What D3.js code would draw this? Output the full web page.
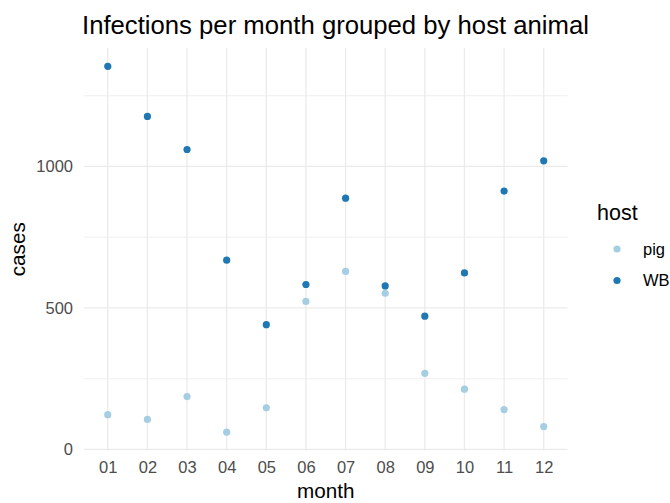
<!DOCTYPE html>
<html><head><meta charset="utf-8">
<script src="https://cdn.jsdelivr.net/npm/d3@7"></script>
<style>body{margin:0;background:#fff;}svg{display:block;font-family:"Liberation Sans",Arial,sans-serif;}</style>
</head><body><svg id="c" width="670" height="503"></svg>
<script>
const months = ["01","02","03","04","05","06","07","08","09","10","11","12"];
const hosts = ["pig","WB"];
const pigCases = [123,106,187,61,147,523,629,552,269,213,141,81];
const wbCases = [1354,1177,1060,669,441,583,888,578,471,624,913,1020];
const yTicks = [0,500,1000];
const yMinor = [250,750,1250];
const colors = ["#a6cee3","#1f78b4"];

const svg = d3.select("#c");
const panel = {left:84, right:567.5, top:48, bottom:450.5};

const allVals = pigCases.concat(wbCases);
const lo = d3.min(allVals), hi = d3.max(allVals), pad=(hi-lo)*0.05;
const y = d3.scaleLinear().domain([lo-pad, hi+pad]).range([panel.bottom, panel.top]);
const x = d3.scalePoint().domain(months).range([panel.left, panel.right]).padding(0.6);
const color = d3.scaleOrdinal().domain(hosts).range(colors);

// grid
const g = svg.append("g");
g.selectAll(".ymin").data(yMinor).join("line")
 .attr("x1",panel.left).attr("x2",panel.right)
 .attr("y1",d=>y(d)).attr("y2",d=>y(d)).attr("stroke","#ebebeb").attr("stroke-width",0.8);
g.selectAll(".ymaj").data(yTicks).join("line")
 .attr("x1",panel.left).attr("x2",panel.right)
 .attr("y1",d=>y(d)).attr("y2",d=>y(d)).attr("stroke","#ebebeb").attr("stroke-width",1.3);
g.selectAll(".xmaj").data(months).join("line")
 .attr("y1",panel.top).attr("y2",panel.bottom)
 .attr("x1",d=>x(d)).attr("x2",d=>x(d)).attr("stroke","#ebebeb").attr("stroke-width",1.3);

// axes (tick labels only)
const yAxis = d3.axisLeft(y).tickValues(yTicks).tickSize(0).tickPadding(11).tickFormat(d3.format("d"));
const ya = svg.append("g").attr("transform",`translate(${panel.left},0)`).call(yAxis);
ya.select(".domain").remove();
ya.selectAll("text").attr("fill","#4d4d4d").style("font-size","16.5px").attr("font-family","Liberation Sans, Arial, sans-serif");
const xAxis = d3.axisBottom(x).tickSize(0).tickPadding(11);
const xa = svg.append("g").attr("transform",`translate(0,${panel.bottom})`).call(xAxis);
xa.select(".domain").remove();
xa.selectAll("text").attr("fill","#4d4d4d").style("font-size","16.5px").attr("font-family","Liberation Sans, Arial, sans-serif");

// points
const series = [pigCases, wbCases];
series.forEach((vals,i)=>{
  svg.append("g").selectAll("circle").data(vals).join("circle")
   .attr("cx",(d,j)=>x(months[j])).attr("cy",d=>y(d)).attr("r",3.6)
   .attr("fill",color(hosts[i]));
});

// titles
svg.append("text").attr("x",82).attr("y",34).attr("font-size","25.7px").attr("fill","#000")
 .text("Infections per month grouped by host animal");
svg.append("text").attr("x",(panel.left+panel.right)/2).attr("y",498).attr("text-anchor","middle")
 .attr("font-size","20.7px").attr("fill","#000").text("month");
svg.append("text").attr("transform",`translate(25,${(panel.top+panel.bottom)/2}) rotate(-90)`)
 .attr("text-anchor","middle").attr("font-size","20.7px").attr("fill","#000").text("cases");

// legend
const lg = svg.append("g");
lg.append("text").attr("x",597).attr("y",220).attr("font-size","21.5px").attr("fill","#000").text("host");
hosts.forEach((h,i)=>{
  lg.append("circle").attr("cx",617).attr("cy",249+i*31.5).attr("r",3.6).attr("fill",color(h));
  lg.append("text").attr("x",643).attr("y",249+i*31.5).attr("dy","0.35em").attr("font-size","16.5px").attr("fill","#000").text(h);
});
</script></body></html>
